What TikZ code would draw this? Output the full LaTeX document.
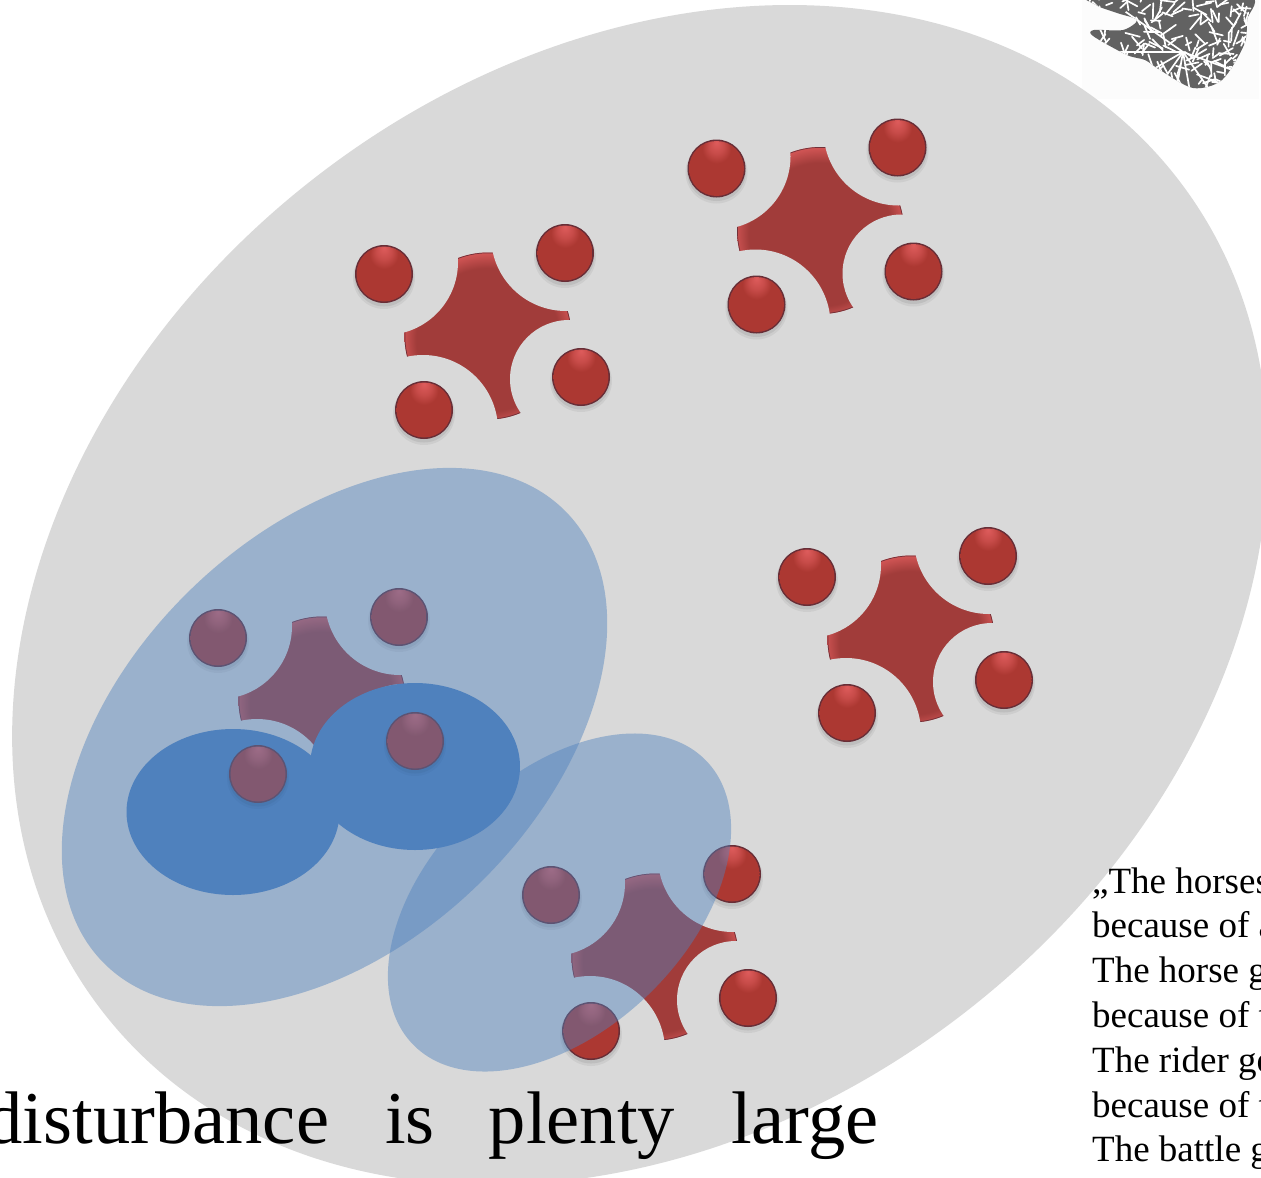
\documentclass[tikz,border=0pt]{standalone}
\usepackage{fontspec}
\setmainfont{Liberation Serif}
\definecolor{biggrey}{RGB}{217,217,217}
\definecolor{paleblue}{RGB}{79,129,189}
\definecolor{deepblue}{RGB}{79,129,190}
\definecolor{starred}{RGB}{161,60,58}
\definecolor{sphbody}{RGB}{172,56,50}
\definecolor{sphhi}{RGB}{222,92,92}
\definecolor{sphrim}{RGB}{92,44,56}
\definecolor{blobgrey}{RGB}{98,98,98}
\pgfdeclareradialshading{sphereshade}{\pgfpoint{0bp}{24bp}}{
  color(0bp)=(sphhi); color(7bp)=(sphhi!55!sphbody); color(13bp)=(sphbody); color(40bp)=(sphbody); color(48bp)=(sphbody!75!black); color(50bp)=(sphbody!75!black)}
\pgfdeclareradialshading{discshade}{\pgfpoint{0bp}{-2bp}}{
  color(0bp)=(starred); color(21.5bp)=(starred); color(26.2bp)=(sphhi!85!starred); color(27bp)=(sphrim!80!starred); color(50bp)=(sphrim)}
\tikzset{
  x=1pt,y=-1pt,
  greyfill/.style={fill=biggrey,draw=none},
  paleveil/.style={fill=paleblue,fill opacity=.45,draw=none},
  deepoval/.style={fill=deepblue,draw=none},
  halo/.style={fill=biggrey,draw=none},
  pics/molecule/.style={code={
    \shade[shading=discshade] (0,1) circle[radius=83.5];
    \draw[sphrim!70!starred,line width=.7pt] (0,1) circle[radius=83.1];
    \fill[halo] (-103,-73) circle[radius=73];
    \fill[halo] (78,-99) circle[radius=75];
    \fill[halo] (81,44) circle[radius=59];
    \fill[halo] (-65,95) circle[radius=75];
  }},
  pics/atom/.style={code={
    \fill[black,opacity=.05] (0,4) circle[radius=31];
    \fill[black,opacity=.07] (0,3) circle[radius=29.5];
    \fill[sphrim!85!sphbody] (0,0) circle[radius=29];
    \shade[shading=sphereshade] (0,0) circle[radius=27.5];
  }}
}
\newcommand{\atomsat}[2]{%
  \pic at (#1-104,#2-61) {atom};
  \pic at (#1+77,#2-82) {atom};
  \pic at (#1+93,#2+42) {atom};
  \pic at (#1-64,#2+75) {atom};
}
\begin{document}
\begin{tikzpicture}
\useasboundingbox (0,0) rectangle (1261,1178);
\clip (0,0) rectangle (1261,1178);
\fill[white] (0,0) rectangle (1261,1178);
% picture in the corner
\fill[black!1] (1082,-5) rectangle (1259,99);
\begin{scope}
  \clip plot[smooth cycle] coordinates {(1092,-6)(1096,5)(1117,13)(1137,20)(1123,30)(1094,30)(1093,36)(1127,55)(1145,60)(1160,70)(1193,88)(1222,80)(1244,45)(1247,20)(1245,-6)};
  \fill[blobgrey] (1080,-10) rectangle (1260,100);
  \pgfmathsetseed{4711}
  \foreach \k in {1,...,190}{
    \pgfmathsetmacro{\ax}{1090+160*rnd}
    \pgfmathsetmacro{\ay}{-5+95*rnd}
    \pgfmathsetmacro{\an}{360*rnd}
    \pgfmathsetmacro{\ln}{6+10*rnd}
    \draw[white,line width=1.7pt,line cap=round] (\ax,\ay) -- ++(\an:\ln);
  }
  \foreach \an in {20,55,80,100,125,150,180,215}{
    \draw[white,line width=1.7pt] (1183,52) -- ++(\an:70);
  }
\end{scope}
% big grey oval
\fill[greyfill,rotate around={37.7:(640,595)}] (640,595) ellipse[x radius=680,y radius=529];
% molecules
\foreach \cx/\cy in {488/335,820.5/229.5,911/638,322/699,655/956}{
  \pic at (\cx,\cy) {molecule};
}
% dark ovals
\fill[deepoval] (233,812) ellipse[x radius=106.5,y radius=83];
\fill[deepoval] (415,766.5) ellipse[x radius=105,y radius=83.5];
% atoms
\atomsat{488}{335}
\atomsat{820.5}{229.5}
\atomsat{911}{638}
\atomsat{322}{699}
\atomsat{655}{956}
% veils
\fill[paleveil,rotate around={44.1:(334.5,737)}] (334.5,737) ellipse[x radius=323,y radius=206];
\fill[paleveil,rotate around={44:(559.5,902.5)}] (559.5,902.5) ellipse[x radius=204,y radius=128];
% text
\node[anchor=base west,inner sep=0pt,text=black] (headline) at (-14.5,1143) {\fontsize{74.5}{74.5}\selectfont disturbance\hspace{56pt}is\hspace{54pt}plenty\hspace{56pt}large};
\foreach \n/\t [count=\i from 0] in {a/„The horses,b/because of a,c/The horse g,d/because of t,e/The rider go,f/because of t,g/The battle g}{
  \node[anchor=base west,inner sep=0pt,text=black] (line\n) at (1092,893+44.8*\i) {\fontsize{37}{37}\selectfont \t};
}
\end{tikzpicture}
\end{document}
